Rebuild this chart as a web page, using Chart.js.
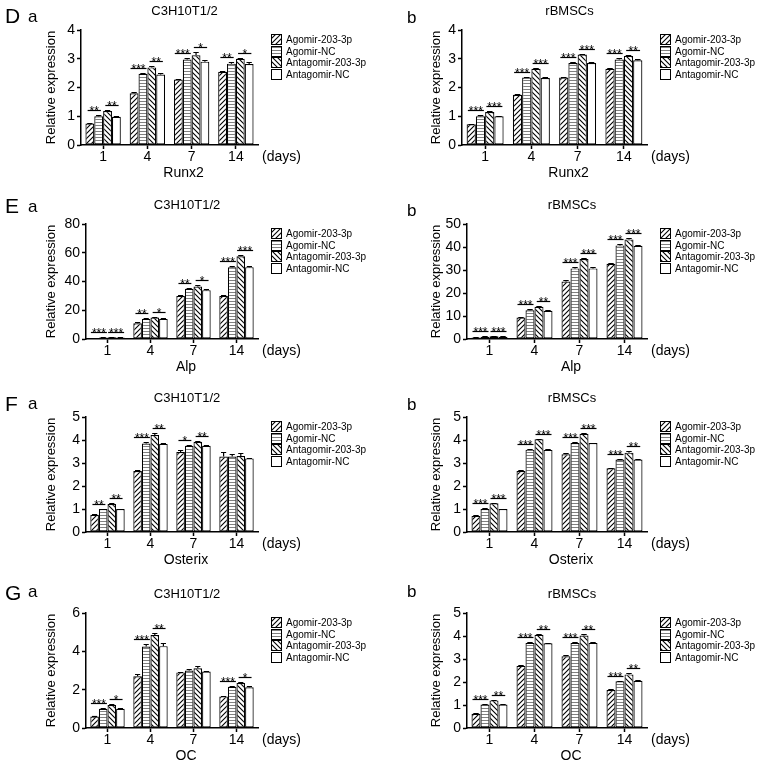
<!DOCTYPE html>
<html>
<head>
<meta charset="utf-8">
<script src="https://cdn.jsdelivr.net/npm/chart.js@4.4.0/dist/chart.umd.min.js"></script>
<style>
  body { margin: 0; background: #fff; width: 765px; height: 768px; position: relative; overflow: hidden; font-family: "Liberation Sans", Arial, sans-serif; }
  canvas { position: absolute; }
  .lt { position: absolute; line-height: 1; color: #000; }
</style>
</head>
<body>
<script>
// categories / series
const days = ['1', '4', '7', '14'];
const groups = ['Agomir-203-3p', 'Agomir-NC', 'Antagomir-203-3p', 'Antagomir-NC'];

// values: one row per group (same order as `groups`), one column per day
// D - Runx2
const runx2C3h = [[0.75, 1.8, 2.28, 2.55], [1.0, 2.48, 2.97, 2.83], [1.18, 2.7, 3.12, 3.0], [0.98, 2.45, 2.9, 2.82]];
const runx2C3hErr = [[0.03, 0.05, 0.03, 0.03], [0.06, 0.04, 0.07, 0.07], [0.03, 0.05, 0.1, 0.03], [0.03, 0.06, 0.07, 0.07]];
const runx2C3hSig = [['**', '**'], ['***', '**'], ['***', '*'], ['**', '*']];
const runx2Bm = [[0.72, 1.75, 2.35, 2.65], [1.0, 2.35, 2.85, 2.97], [1.15, 2.65, 3.15, 3.1], [1.0, 2.33, 2.85, 2.95]];
const runx2BmErr = [[0.02, 0.03, 0.03, 0.03], [0.03, 0.03, 0.04, 0.04], [0.03, 0.03, 0.03, 0.03], [0.02, 0.02, 0.02, 0.03]];
const runx2BmSig = [['***', '***'], ['***', '***'], ['***', '***'], ['***', '**']];
// E - Alp
const alpC3h = [[0.7, 11, 30, 30], [1.0, 14, 35, 50], [1.2, 15, 36.5, 57.5], [1.0, 14, 34, 50]];
const alpC3hErr = [[0.1, 0.5, 0.8, 0.7], [0.1, 0.5, 0.8, 0.5], [0.1, 0.5, 0.8, 0.6], [0.1, 0.5, 0.8, 0.6]];
const alpC3hSig = [['***', '***'], ['**', '*'], ['**', '*'], ['***', '***']];
const alpBm = [[0.7, 9.3, 25, 32.7], [1.0, 12.5, 30.7, 40.7], [1.2, 14, 34.8, 43.3], [1.0, 12.3, 30.7, 40.5]];
const alpBmErr = [[0.1, 0.3, 0.5, 0.5], [0.1, 0.4, 0.6, 0.5], [0.1, 0.3, 0.5, 0.5], [0.1, 0.3, 0.4, 0.4]];
const alpBmSig = [['***', '***'], ['***', '**'], ['***', '***'], ['***', '***']];
// F - Osterix
const osxC3h = [[0.75, 2.65, 3.48, 3.28], [1.0, 3.85, 3.75, 3.28], [1.22, 4.22, 3.92, 3.3], [1.0, 3.83, 3.75, 3.2]];
const osxC3hErr = [[0.03, 0.04, 0.07, 0.2], [0.02, 0.07, 0.03, 0.1], [0.03, 0.08, 0.03, 0.15], [0.02, 0.02, 0.02, 0.02]];
const osxC3hSig = [['**', '**'], ['***', '**'], ['*', '**'], ['', '']];
const osxBm = [[0.7, 2.65, 3.38, 2.77], [1.0, 3.58, 3.87, 3.15], [1.25, 4.03, 4.27, 3.45], [1.0, 3.57, 3.87, 3.15]];
const osxBmErr = [[0.02, 0.03, 0.05, 0.03], [0.03, 0.05, 0.03, 0.04], [0.03, 0.03, 0.03, 0.07], [0.02, 0.05, 0.02, 0.03]];
const osxBmSig = [['***', '***'], ['***', '***'], ['***', '***'], ['***', '**']];
// G - OC
const ocC3h = [[0.6, 2.7, 2.9, 1.65], [1.0, 4.25, 3.0, 2.15], [1.2, 4.85, 3.12, 2.35], [1.0, 4.27, 2.95, 2.13]];
const ocC3hErr = [[0.03, 0.12, 0.03, 0.03], [0.03, 0.15, 0.08, 0.06], [0.05, 0.12, 0.1, 0.05], [0.03, 0.15, 0.05, 0.06]];
const ocC3hSig = [['***', '*'], ['***', '**'], ['', ''], ['***', '*']];
const ocBm = [[0.62, 2.7, 3.12, 1.65], [1.02, 3.7, 3.7, 2.03], [1.2, 4.05, 4.02, 2.33], [1.02, 3.68, 3.7, 2.05]];
const ocBmErr = [[0.02, 0.03, 0.04, 0.03], [0.03, 0.03, 0.03, 0.03], [0.03, 0.05, 0.05, 0.04], [0.02, 0.03, 0.02, 0.03]];
const ocBmSig = [['***', '**'], ['***', '**'], ['***', '**'], ['***', '**']];

// y tick labels
const ticks4 = [0, 1, 2, 3, 4];
const ticks5 = [0, 1, 2, 3, 4, 5];
const ticks6 = [0, 2, 4, 6];
const ticks50 = [0, 10, 20, 30, 40, 50];
const ticks80 = [0, 20, 40, 60, 80];

const FONT = '"Liberation Sans", Arial, sans-serif';

// page layout (pixels)
const rowTop = [30, 224, 417, 613];        // top of plot area for each row
const colLeft = [0, 380];
const colWidth = [380, 385];
const areaRight = [258, 267];               // local x of plot right edge
const areaLeft = [[81, 86, 86, 86], [82, 87, 87, 87]];
const yTitlePad = [44, 49];
const letterY = [[15.5, 18, 17.5], [205, 208, 210], [403, 405, 404], [592, 593, 591]];

const panels = [
  { row: 0, col: 0, letter: 'D', title: 'C3H10T1/2', gene: 'Runx2', vals: runx2C3h, errs: runx2C3hErr, sig: runx2C3hSig, ticks: ticks4 },
  { row: 0, col: 1, letter: 'D', title: 'rBMSCs', gene: 'Runx2', vals: runx2Bm, errs: runx2BmErr, sig: runx2BmSig, ticks: ticks4 },
  { row: 1, col: 0, letter: 'E', title: 'C3H10T1/2', gene: 'Alp', vals: alpC3h, errs: alpC3hErr, sig: alpC3hSig, ticks: ticks80 },
  { row: 1, col: 1, letter: 'E', title: 'rBMSCs', gene: 'Alp', vals: alpBm, errs: alpBmErr, sig: alpBmSig, ticks: ticks50 },
  { row: 2, col: 0, letter: 'F', title: 'C3H10T1/2', gene: 'Osterix', vals: osxC3h, errs: osxC3hErr, sig: osxC3hSig, ticks: ticks5 },
  { row: 2, col: 1, letter: 'F', title: 'rBMSCs', gene: 'Osterix', vals: osxBm, errs: osxBmErr, sig: osxBmSig, ticks: ticks5 },
  { row: 3, col: 0, letter: 'G', title: 'C3H10T1/2', gene: 'OC', vals: ocC3h, errs: ocC3hErr, sig: ocC3hSig, ticks: ticks6 },
  { row: 3, col: 1, letter: 'G', title: 'rBMSCs', gene: 'OC', vals: ocBm, errs: ocBmErr, sig: ocBmSig, ticks: ticks5 }
];

// hatch fills
function hatch(kind) {
  const s = kind === 'h' ? 3 : 5;
  const c = document.createElement('canvas');
  c.width = s; c.height = s;
  const g = c.getContext('2d');
  g.fillStyle = '#fff';
  g.fillRect(0, 0, s, s);
  g.strokeStyle = '#000';
  g.lineWidth = 1.1;
  if (kind === 'h') {
    g.fillStyle = '#808080';
    g.fillRect(0, 0, s, 1);
  } else if (kind === 'f') {
    g.beginPath();
    g.moveTo(0, s); g.lineTo(s, 0);
    g.moveTo(-1, 1); g.lineTo(1, -1);
    g.moveTo(s - 1, s + 1); g.lineTo(s + 1, s - 1);
    g.stroke();
  } else if (kind === 'b') {
    g.beginPath();
    g.moveTo(0, 0); g.lineTo(s, s);
    g.moveTo(-1, s - 1); g.lineTo(1, s + 1);
    g.moveTo(s - 1, -1); g.lineTo(s + 1, 1);
    g.stroke();
  }
  return g.createPattern(c, 'repeat');
}
const fills = [hatch('f'), hatch('h'), hatch('b'), '#ffffff'];

// error bars, significance marks, title, legend, axis notes
const decor = {
  id: 'decor',
  afterDatasetsDraw(chart, args, o) {
    const ctx = chart.ctx, y = chart.scales.y;
    ctx.save();
    ctx.strokeStyle = '#000';
    ctx.lineWidth = 1.2;
    chart.data.datasets.forEach((ds, i) => {
      chart.getDatasetMeta(i).data.forEach((bar, j) => {
        const e = o.errs[i][j];
        if (!e) return;
        const top = Math.round(y.getPixelForValue(ds.data[j] + e)) + 0.5;
        const half = bar.width * 0.3;
        ctx.beginPath();
        ctx.moveTo(bar.x, bar.y);
        ctx.lineTo(bar.x, top);
        ctx.moveTo(bar.x - half, top);
        ctx.lineTo(bar.x + half, top);
        ctx.stroke();
      });
    });

    ctx.font = '12px ' + FONT;
    ctx.textAlign = 'center';
    ctx.textBaseline = 'alphabetic';
    ctx.fillStyle = '#000';
    o.sig.forEach((pair, j) => {
      pair.forEach((s, k) => {
        if (!s) return;
        const d1 = chart.data.datasets[2 * k], d2 = chart.data.datasets[2 * k + 1];
        const b1 = chart.getDatasetMeta(2 * k).data[j], b2 = chart.getDatasetMeta(2 * k + 1).data[j];
        const hi = Math.max(d1.data[j] + o.errs[2 * k][j], d2.data[j] + o.errs[2 * k + 1][j]);
        const ly = Math.round(y.getPixelForValue(hi)) - 4.5;
        const cx = (b1.x + b2.x) / 2;
        const hw = Math.max(ctx.measureText(s).width / 2 + 1, b1.width * 0.75);
        ctx.beginPath();
        ctx.moveTo(cx - hw, ly);
        ctx.lineTo(cx + hw, ly);
        ctx.stroke();
        ctx.fillText(s, cx, ly + 4);
      });
    });
    ctx.restore();
  },
  afterDraw(chart, args, o) {
    const ctx = chart.ctx, a = chart.chartArea;
    const mid = (a.left + a.right) / 2;
    ctx.save();
    ctx.fillStyle = '#000';
    ctx.textBaseline = 'middle';

    ctx.font = '13px ' + FONT;
    ctx.textAlign = 'center';
    ctx.fillText(o.title, mid + 15, a.top - 19);

    ctx.font = '14px ' + FONT;
    ctx.fillText(o.gene, mid + 14, a.bottom + 28);
    ctx.textAlign = 'left';
    ctx.fillText('(days)', a.right + 4, a.bottom + 12);

    // legend
    ctx.font = '10px ' + FONT;
    const lx = a.right + 13;
    chart.data.datasets.forEach((ds, i) => {
      const ly = a.top + 4 + Math.round(i * 11.7);
      ctx.fillStyle = ds.backgroundColor;
      ctx.fillRect(lx, ly, 11, 11);
      ctx.strokeStyle = '#000';
      ctx.lineWidth = 1;
      ctx.strokeRect(lx + 0.5, ly + 0.5, 10, 10);
      ctx.fillStyle = '#000';
      ctx.fillText(ds.label, lx + 15, ly + 6);
    });
    ctx.restore();
  }
};

function addLetter(text, x, cy, size, xh) {
  const d = document.createElement('div');
  d.className = 'lt';
  d.textContent = text;
  d.style.left = x + 'px';
  d.style.fontSize = size + 'px';
  d.style.top = (cy - (xh ? 0.587 : 0.49) * size) + 'px';
  document.body.appendChild(d);
}

panels.forEach(p => {
  const top = rowTop[p.row] - 40;
  const W = colWidth[p.col], H = 200;
  const cv = document.createElement('canvas');
  cv.width = W; cv.height = H;
  cv.style.left = colLeft[p.col] + 'px';
  cv.style.top = top + 'px';
  cv.style.width = W + 'px';
  cv.style.height = H + 'px';
  document.body.appendChild(cv);

  if (p.col === 0) {
    addLetter(p.letter, 5, letterY[p.row][0], 21, false);
    addLetter('a', 28, letterY[p.row][1], 17, true);
  } else {
    addLetter('b', 407, letterY[p.row][2], 17, false);
  }

  const leftW = areaLeft[p.col][p.row];
  const t = p.ticks;
  new Chart(cv.getContext('2d'), {
    type: 'bar',
    data: {
      labels: days,
      datasets: groups.map((g, i) => ({
        label: g,
        data: p.vals[i],
        backgroundColor: fills[i],
        borderColor: '#000',
        borderWidth: 1.2,
        borderSkipped: false,
        barPercentage: 1.0,
        categoryPercentage: 0.8
      }))
    },
    options: {
      responsive: false,
      animation: false,
      devicePixelRatio: 1,
      layout: { padding: { left: 0, right: W - areaRight[p.col], top: 40, bottom: 0 } },
      plugins: {
        legend: { display: false },
        tooltip: { enabled: false },
        decor: { title: p.title, gene: p.gene, errs: p.errs, sig: p.sig }
      },
      scales: {
        x: {
          grid: { display: true, drawOnChartArea: false, offset: false, tickLength: 4, tickWidth: 1.5, tickColor: '#000' },
          border: { color: '#000', width: 1.5 },
          ticks: { color: '#000', font: { family: FONT, size: 14 }, padding: 0, maxRotation: 0 },
          afterFit: s => { s.height = 45; }
        },
        y: {
          min: t[0],
          max: t[t.length - 1],
          grid: { display: true, drawOnChartArea: false, tickLength: 4, tickWidth: 1.5, tickColor: '#000' },
          border: { color: '#000', width: 1.5 },
          ticks: { color: '#000', font: { family: FONT, size: 14 }, stepSize: t[1] - t[0], padding: 2 },
          title: { display: true, text: 'Relative expression', color: '#000', font: { family: FONT, size: 13 }, padding: { top: yTitlePad[p.col], bottom: 0 } },
          afterFit: s => { s.width = leftW; }
        }
      }
    },
    plugins: [decor]
  });
});
</script>
</body>
</html>
